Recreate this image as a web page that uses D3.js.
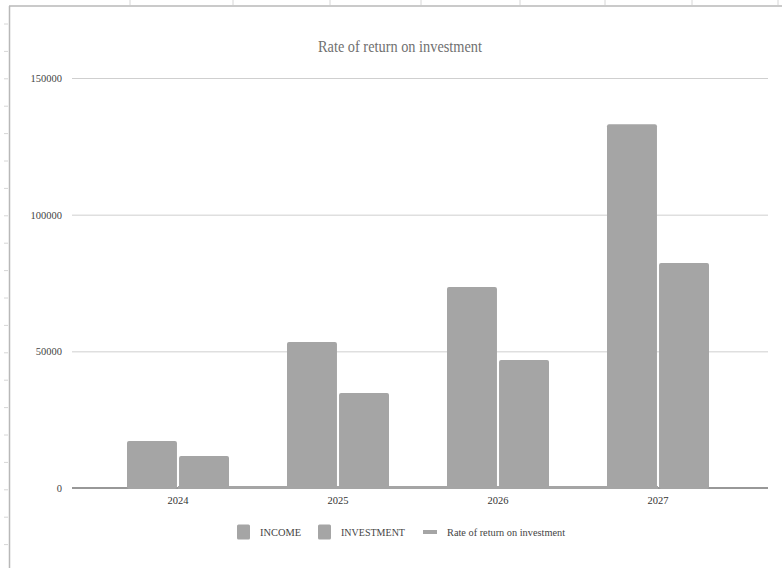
<!DOCTYPE html>
<html>
<head>
<meta charset="utf-8">
<script src="https://cdn.jsdelivr.net/npm/d3@7"></script>
<style>
  html, body { margin: 0; padding: 0; background: #fff; }
  svg { display: block; }
  svg text { font-family: "Liberation Serif", "Tinos", "Times New Roman", "DejaVu Serif", serif; }
</style>
</head>
<body>
<svg id="chart" width="782" height="568"></svg>
<script>
// Chart data
const years = ["2024", "2025", "2026", "2027"];
const seriesNames = ["INCOME", "INVESTMENT"];
const income = [17200, 53400, 73500, 133100];
const investment = [11700, 34800, 46800, 82300];
const rateOfReturn = [0.47, 0.53, 0.57, 0.62];
const yTicks = [0, 50000, 100000, 150000];
const chartTitle = "Rate of return on investment";
const lineName = "Rate of return on investment";

const W = 782, H = 568;
const plot = { left: 72, right: 768, top: 78, bottom: 488 };
const serif = "'Liberation Serif', 'Tinos', 'Times New Roman', 'DejaVu Serif', serif";
const barColor = "#a5a5a5";

const svg = d3.select("#chart");

// Sheet frame around the embedded chart, with faint cell ticks
const frame = svg.append("g");
frame.append("line").attr("x1", 9).attr("x2", W).attr("y1", 6).attr("y2", 6)
  .attr("stroke", "#b8b8b8").attr("stroke-width", 1.5);
frame.append("line").attr("x1", 9.5).attr("x2", 9.5).attr("y1", 6).attr("y2", H)
  .attr("stroke", "#b8b8b8").attr("stroke-width", 1.5);
[130, 233, 330, 421, 520, 605, 692, 778].forEach(x => {
  frame.append("line").attr("x1", x).attr("x2", x).attr("y1", 0).attr("y2", 5)
    .attr("stroke", "#d6d6d6");
});
d3.range(24, H, 27.4).forEach(y => {
  frame.append("line").attr("x1", 4).attr("x2", 8).attr("y1", y).attr("y2", y)
    .attr("stroke", "#d6d6d6");
});

// Scales
const y = d3.scaleLinear().domain([0, 150000]).range([plot.bottom, plot.top]);
const x0 = d3.scaleBand().domain(years).range([plot.left - 2, plot.right - 2])
  .paddingInner(0.3625).paddingOuter(0.35625);
const x1 = d3.scaleBand().domain(seriesNames).range([0, x0.bandwidth()])
  .paddingInner(0.04);

// Title
svg.append("text")
  .attr("x", 400).attr("y", 52)
  .attr("text-anchor", "middle")
  .attr("font-family", serif)
  .attr("font-size", 16)
  .attr("textLength", 164)
  .attr("lengthAdjust", "spacingAndGlyphs")
  .attr("fill", "#707070")
  .text(chartTitle);

// Horizontal gridlines
svg.append("g").selectAll("line")
  .data(yTicks.filter(d => d !== 0))
  .join("line")
  .attr("x1", plot.left).attr("x2", plot.right)
  .attr("y1", d => y(d) + 0.5).attr("y2", d => y(d) + 0.5)
  .attr("stroke", "#cfcfcf").attr("stroke-width", 1);

// Y axis labels
const yAxis = svg.append("g")
  .attr("transform", `translate(${plot.left - 5},0)`)
  .call(d3.axisLeft(y).tickValues(yTicks).tickSize(0).tickPadding(5).tickFormat(d3.format("d")));
yAxis.select(".domain").remove();
yAxis.selectAll("text")
  .attr("font-family", serif)
  .attr("font-size", 10.5).attr("fill", "#444");

// Zero baseline
svg.append("line")
  .attr("x1", plot.left).attr("x2", plot.right)
  .attr("y1", y(0)).attr("y2", y(0))
  .attr("stroke", "#333").attr("stroke-width", 1.2);

// Bars
const rows = years.map((yr, i) => ({ year: yr, values: [
  { key: "INCOME", value: income[i] },
  { key: "INVESTMENT", value: investment[i] }
]}));

const groups = svg.append("g").selectAll("g")
  .data(rows).join("g")
  .attr("transform", d => `translate(${x0(d.year)},0)`);

groups.selectAll("rect")
  .data(d => d.values).join("rect")
  .attr("x", d => x1(d.key))
  .attr("y", d => y(d.value))
  .attr("width", x1.bandwidth())
  .attr("height", d => y(0) - y(d.value) + 1)
  .attr("rx", 2)
  .attr("fill", barColor);

// Rate of return line
const line = d3.line()
  .x((d, i) => x0(years[i]) + x0.bandwidth() / 2)
  .y(d => y(d) - 0.5);
svg.append("path")
  .datum(rateOfReturn)
  .attr("d", line)
  .attr("fill", "none")
  .attr("stroke", barColor)
  .attr("stroke-width", 3);

// X axis labels
const xAxis = svg.append("g")
  .attr("transform", `translate(0,${plot.bottom})`)
  .call(d3.axisBottom(x0).tickSize(0).tickPadding(9));
xAxis.select(".domain").remove();
xAxis.selectAll("text")
  .attr("font-family", serif)
  .attr("font-size", 10.5).attr("fill", "#333");

// Legend
const legend = svg.append("g").attr("transform", "translate(0,532)");
const legendItems = [
  { name: seriesNames[0], type: "box", x: 237, w: 41 },
  { name: seriesNames[1], type: "box", x: 318, w: 64 },
  { name: lineName, type: "line", x: 423, w: 118 }
];
legendItems.forEach(it => {
  if (it.type === "box") {
    legend.append("rect").attr("x", it.x).attr("y", -7.5)
      .attr("width", 13).attr("height", 15).attr("rx", 1.5).attr("fill", barColor);
    legend.append("text").attr("x", it.x + 23).attr("y", 4)
      .attr("font-family", serif)
      .attr("font-size", 11).attr("fill", "#444")
      .attr("textLength", it.w).attr("lengthAdjust", "spacingAndGlyphs")
      .text(it.name);
  } else {
    legend.append("line").attr("x1", it.x).attr("x2", it.x + 14)
      .attr("y1", 0).attr("y2", 0)
      .attr("stroke", barColor).attr("stroke-width", 4);
    legend.append("text").attr("x", it.x + 24).attr("y", 4)
      .attr("font-family", serif)
      .attr("font-size", 11).attr("fill", "#444")
      .attr("textLength", it.w).attr("lengthAdjust", "spacingAndGlyphs")
      .text(it.name);
  }
});
</script>
</body>
</html>
